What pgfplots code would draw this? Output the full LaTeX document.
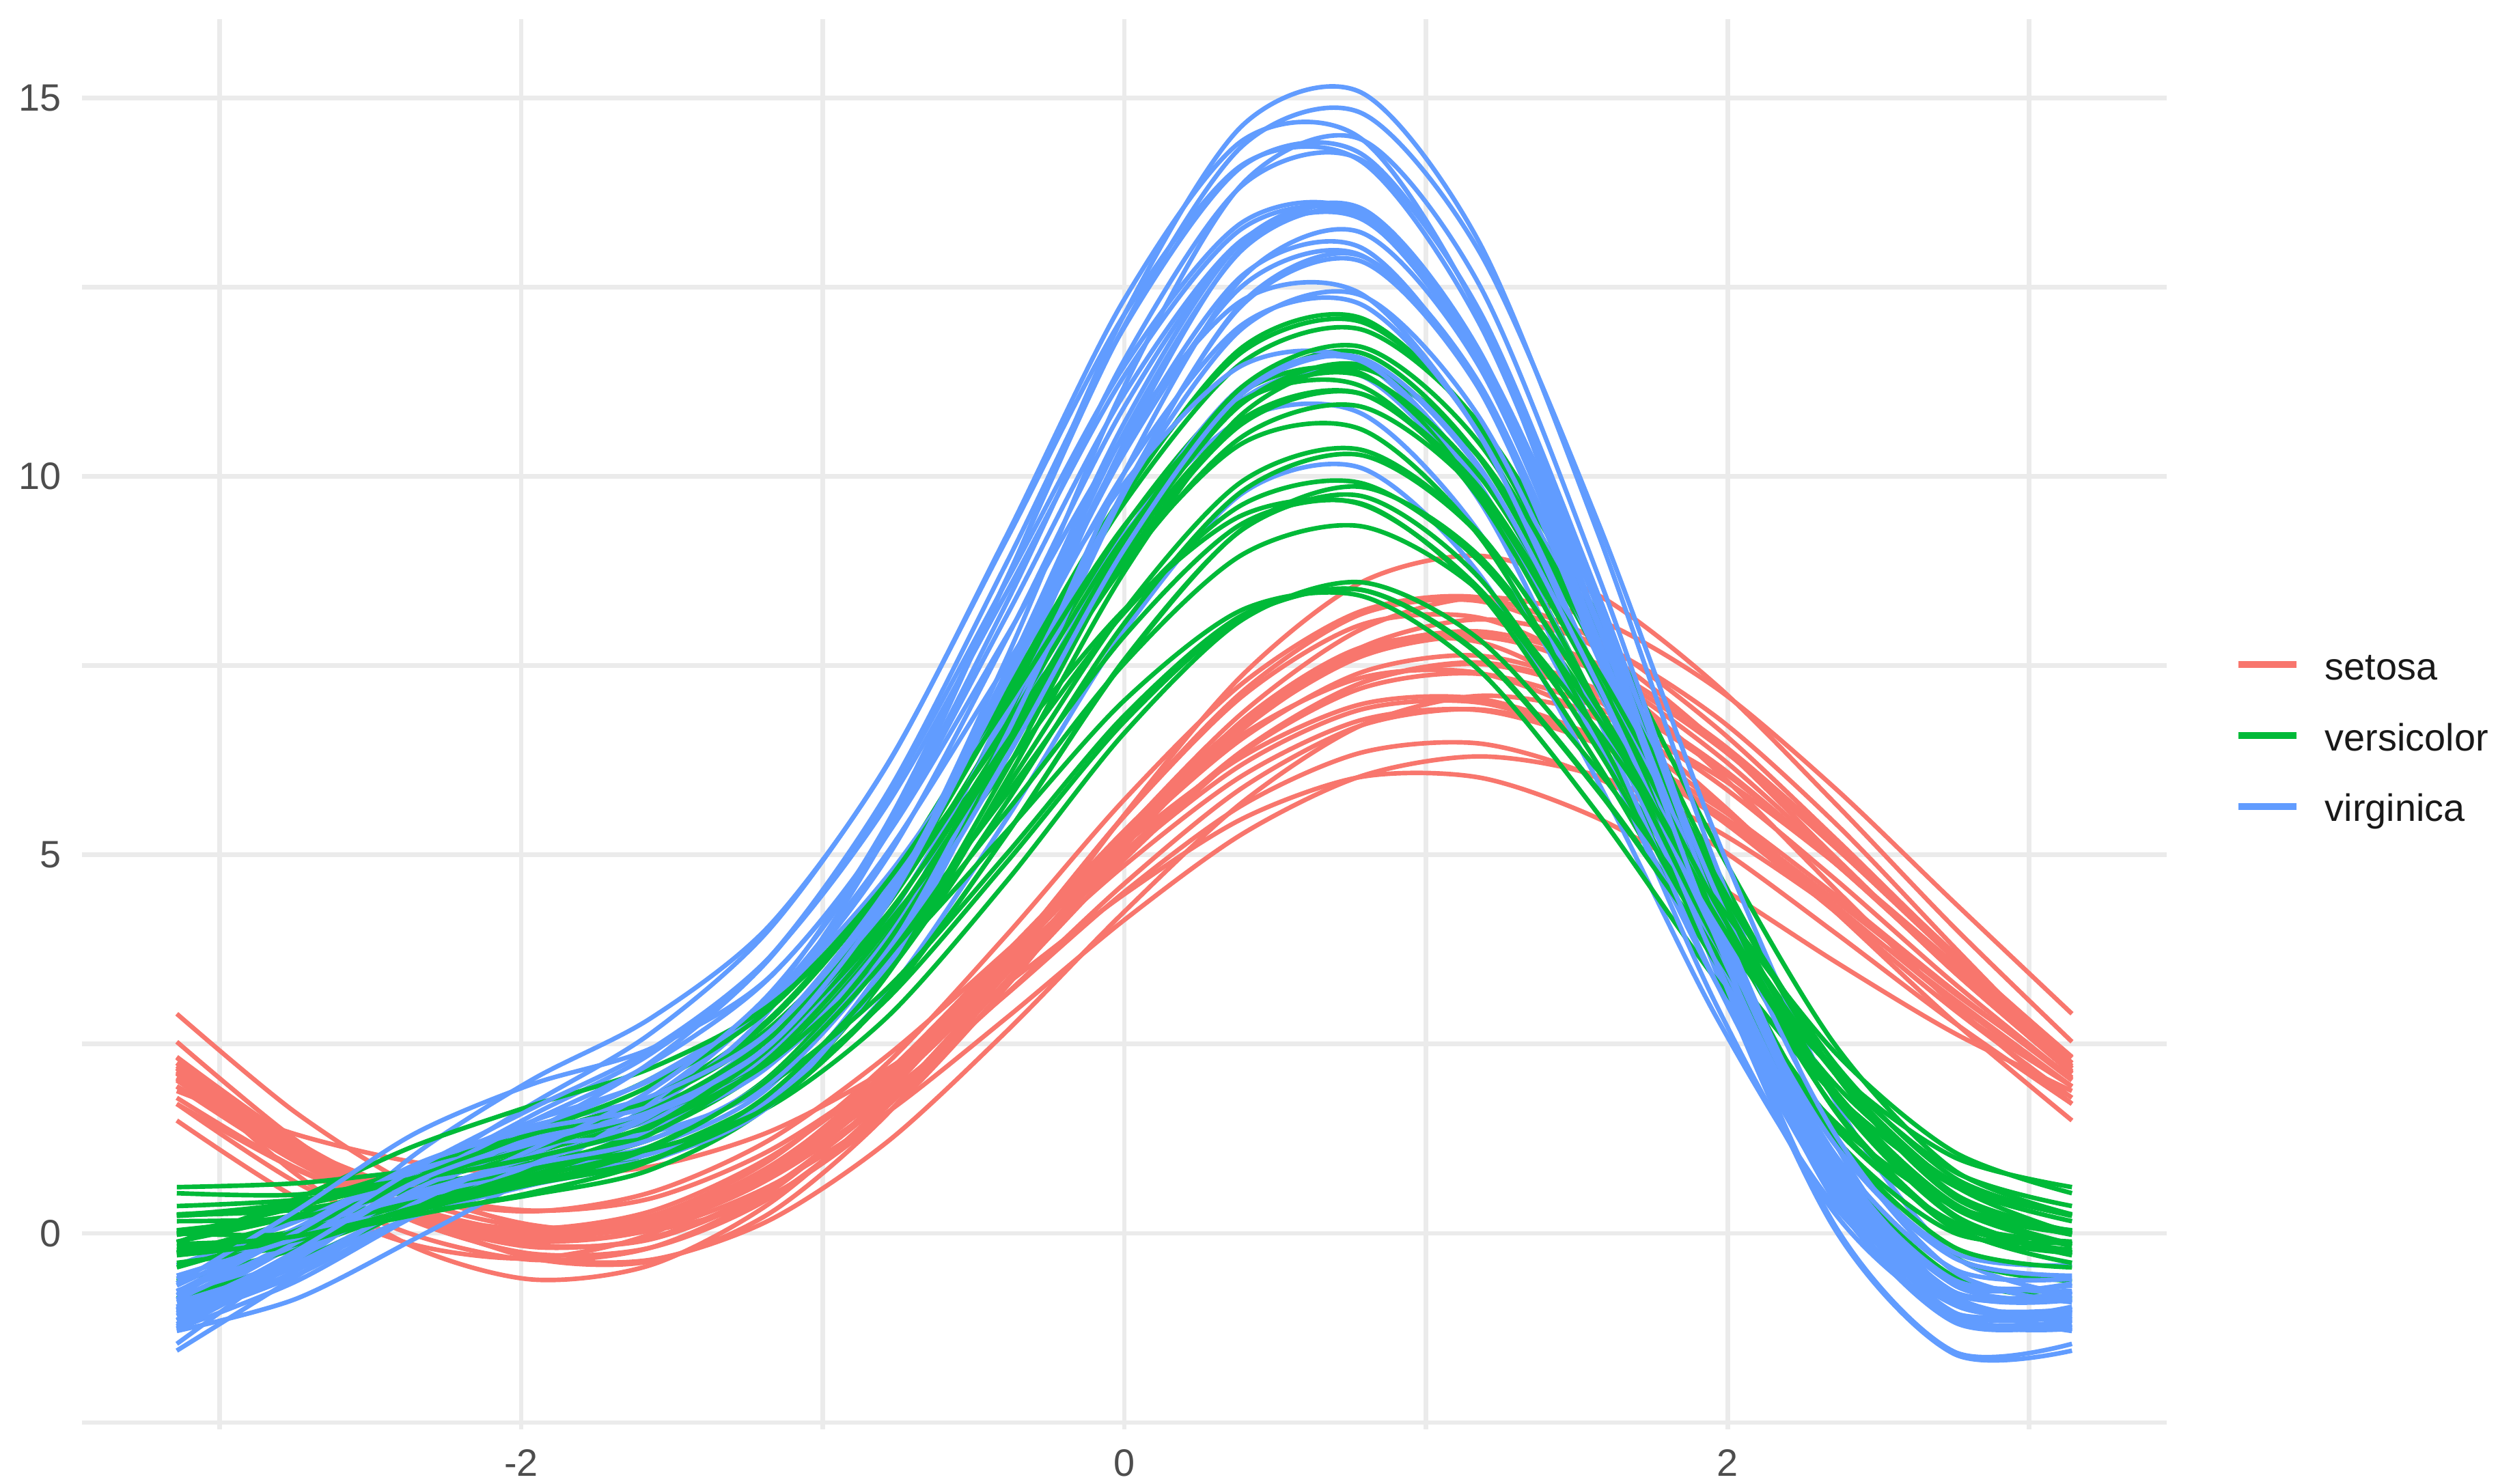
\documentclass[border=0pt]{standalone}
\usepackage{pgfplots}
\pgfplotsset{compat=1.18}
\usepackage{pgfplotstable}
\usepackage{fontspec}
\setmainfont{Liberation Sans}
\definecolor{setc}{HTML}{F8766D}
\definecolor{verc}{HTML}{00BA38}
\definecolor{virc}{HTML}{619CFF}
\definecolor{gridc}{HTML}{EBEBEB}
\definecolor{tickc}{HTML}{4D4D4D}

% Andrews curves of iris rows, setosa (part A)
\pgfplotstableread{
t c1 c2 c3 c4 c5 c6 c7 c8 c9 c10 c11 c12 c13
-3.1416 2.90 2.53 1.49 1.88 1.94 2.21 2.06 2.12 1.71 2.25 2.18 1.94 1.71
-2.7489 1.60 1.24 0.48 1.31 0.95 1.11 1.16 1.04 0.85 1.09 0.79 1.05 0.68
-2.3562 0.62 0.26 -0.15 0.94 0.24 0.34 0.55 0.26 0.27 0.20 -0.18 0.48 -0.02
-1.9635 0.09 -0.33 -0.33 0.77 -0.08 -0.02 0.30 -0.15 0.04 -0.31 -0.61 0.29 -0.35
-1.5708 0.10 -0.37 -0.01 0.88 0.04 0.11 0.46 -0.08 0.21 -0.35 -0.42 0.54 -0.19
-1.1781 0.72 0.26 0.84 1.34 0.62 0.77 1.09 0.58 0.83 0.17 0.39 1.23 0.54
-0.7854 1.92 1.58 2.13 2.17 1.60 1.92 2.13 1.86 1.85 1.21 1.74 2.35 1.86
-0.3927 3.54 3.45 3.71 3.29 2.84 3.42 3.47 3.61 3.15 2.66 3.42 3.72 3.62
0 5.30 5.53 5.29 4.48 4.14 5.01 4.86 5.52 4.51 4.25 5.18 5.14 5.51
0.3927 6.88 7.38 6.59 5.48 5.28 6.38 6.05 7.16 5.66 5.70 6.70 6.30 7.10
0.7854 7.98 8.60 7.34 6.03 6.04 7.27 6.78 8.18 6.35 6.71 7.74 6.99 8.04
1.1781 8.40 8.95 7.40 6.02 6.30 7.52 6.91 8.35 6.47 7.10 8.11 7.06 8.13
1.5708 8.10 8.43 6.79 5.48 6.04 7.11 6.46 7.72 6.01 6.85 7.78 6.54 7.41
1.9635 7.20 7.24 5.67 4.60 5.32 6.16 5.56 6.49 5.11 6.05 6.82 5.55 6.11
2.3562 5.88 5.68 4.25 3.59 4.28 4.89 4.40 4.97 3.97 4.89 5.42 4.33 4.55
2.7489 4.38 4.05 2.80 2.65 3.10 3.51 3.18 3.46 2.79 3.57 3.79 3.06 3.02
3.1416 2.90 2.53 1.49 1.88 1.94 2.21 2.06 2.12 1.71 2.25 2.18 1.94 1.71
}\setosa
% setosa (part B)
\pgfplotstableread{
t c1 c2 c3 c4 c5 c6 c7 c8 c9 c10
-3.1416 2.14 2.04 2.32 2.11 2.18 1.79 1.94 2.25 2.33 2.02
-2.7489 1.01 0.99 1.16 0.98 1.09 0.87 1.14 1.09 1.22 1.04
-2.3562 0.20 0.27 0.34 0.16 0.34 0.27 0.53 0.27 0.44 0.34
-1.9635 -0.18 -0.04 -0.03 -0.27 0.01 0.06 0.11 -0.10 0.08 0.01
-1.5708 -0.06 0.14 0.12 -0.19 0.18 0.29 0.04 0.05 0.23 0.12
-1.1781 0.60 0.83 0.83 0.46 0.88 1.00 0.49 0.76 0.96 0.72
-0.7854 1.78 1.99 2.06 1.68 2.06 2.13 1.59 1.99 2.25 1.78
-0.3927 3.31 3.48 3.65 3.33 3.58 3.54 3.25 3.58 3.93 3.16
0 4.94 5.04 5.32 5.11 5.18 4.99 5.14 5.25 5.73 4.62
0.3927 6.35 6.36 6.76 6.66 6.54 6.20 6.78 6.69 7.27 5.89
0.7854 7.27 7.20 7.70 7.65 7.41 6.92 7.74 7.62 8.22 6.71
1.1781 7.54 7.39 7.95 7.90 7.63 7.01 7.81 7.88 8.40 6.92
1.5708 7.14 6.94 7.52 7.41 7.18 6.49 7.04 7.45 7.83 6.52
1.9635 6.18 5.96 6.52 6.33 6.20 5.50 5.73 6.45 6.68 5.64
2.3562 4.89 4.68 5.17 4.93 4.89 4.25 4.28 5.10 5.22 4.47
2.7489 3.48 3.31 3.71 3.46 3.49 2.96 2.97 3.64 3.70 3.21
3.1416 2.14 2.04 2.32 2.11 2.18 1.79 1.94 2.25 2.33 2.02
}\setosaB

% versicolor (part A)
\pgfplotstableread{
t c1 c2 c3 c4 c5 c6 c7 c8 c9 c10 c11 c12 c13 c14
-3.1416 0.25 -0.02 -0.11 0.16 0.04 0.24 0.36 -0.63 -0.26 -0.86 -0.26 0.61 0.24 -0.12
-2.7489 0.37 0.23 0.23 0.20 0.24 0.41 0.44 -0.21 0.17 -0.37 -0.08 0.66 0.31 0.45
-2.3562 0.76 0.72 0.73 0.43 0.65 0.86 0.66 0.32 0.78 0.33 0.26 0.82 0.58 1.15
-1.9635 1.18 1.20 1.15 0.69 1.06 1.39 0.82 0.65 1.25 0.93 0.51 0.93 0.85 1.69
-1.5708 1.75 1.78 1.59 1.06 1.54 2.04 1.06 0.97 1.74 1.54 0.84 1.11 1.24 2.18
-1.1781 2.80 2.83 2.38 1.80 2.32 3.03 1.74 1.78 2.68 2.57 1.69 1.67 1.97 3.01
-0.7854 4.61 4.65 3.79 3.10 3.60 4.52 3.15 3.50 4.45 4.34 3.42 2.86 3.24 4.51
-0.3927 7.08 7.16 5.79 4.89 5.30 6.39 5.26 6.11 7.01 6.79 5.97 4.64 5.00 6.64
0 9.65 9.78 7.89 6.76 7.04 8.24 7.56 8.97 9.74 9.34 8.74 6.61 6.84 8.88
0.3927 11.51 11.65 9.38 8.14 8.24 9.49 9.31 11.10 11.71 11.12 10.83 8.11 8.17 10.44
0.7854 11.94 12.04 9.64 8.50 8.42 9.63 9.86 11.63 12.09 11.36 11.43 8.60 8.50 10.62
1.1781 10.69 10.68 8.46 7.65 7.43 8.51 8.94 10.24 10.62 9.82 10.24 7.84 7.63 9.20
1.5708 8.15 7.98 6.19 5.86 5.54 6.44 6.86 7.37 7.74 6.94 7.64 6.11 5.84 6.58
1.9635 5.12 4.81 3.56 3.71 3.34 4.04 4.34 4.02 4.39 3.65 4.53 3.99 3.69 3.63
2.3562 2.49 2.11 1.39 1.83 1.47 1.97 2.16 1.24 1.62 0.95 1.86 2.15 1.83 1.26
2.7489 0.84 0.48 0.15 0.63 0.36 0.68 0.82 -0.31 0.06 -0.57 0.25 1.01 0.66 0.01
3.1416 0.25 -0.02 -0.11 0.16 0.04 0.24 0.36 -0.63 -0.26 -0.86 -0.26 0.61 0.24 -0.12
}\versi
% versicolor (part B)
\pgfplotstableread{
t c1 c2 c3 c4 c5 c6 c7 c8 c9 c10 c11 c12
-3.1416 0.03 0.00 -0.25 -0.22 -0.39 0.00 -0.45 0.23 0.53 -0.14 -0.29 -0.17
-2.7489 0.20 0.34 -0.02 0.03 -0.15 -0.01 0.03 0.36 0.51 -0.06 -0.09 -0.04
-2.3562 0.58 0.86 0.40 0.41 0.34 0.29 0.72 0.73 0.72 0.24 0.34 0.31
-1.9635 0.91 1.31 0.74 0.68 0.83 0.74 1.33 1.12 1.00 0.54 0.77 0.66
-1.5708 1.33 1.80 1.15 0.98 1.41 1.40 1.95 1.63 1.43 0.96 1.31 1.13
-1.1781 2.23 2.71 2.07 1.69 2.44 2.47 2.96 2.57 2.26 1.84 2.31 2.04
-0.7854 3.94 4.37 3.84 3.13 4.19 4.09 4.65 4.22 3.67 3.44 4.04 3.65
-0.3927 6.40 6.71 6.40 5.26 6.56 6.15 6.96 6.47 5.56 5.68 6.43 5.88
0 9.03 9.20 9.15 7.58 9.01 8.20 9.35 8.83 7.53 8.06 8.91 8.23
0.3927 10.97 10.98 11.19 9.30 10.76 9.63 11.00 10.53 8.97 9.81 10.70 9.94
0.7854 11.47 11.33 11.71 9.74 11.09 9.91 11.19 10.92 9.34 10.28 11.09 10.35
1.1781 10.26 10.00 10.43 8.65 9.78 8.87 9.70 9.77 8.48 9.22 9.84 9.24
1.5708 7.73 7.40 7.75 6.38 7.21 6.80 6.95 7.43 6.63 6.96 7.31 6.93
1.9635 4.70 4.36 4.57 3.69 4.20 4.32 3.83 4.64 4.39 4.24 4.33 4.18
2.3562 2.11 1.82 1.86 1.43 1.64 2.11 1.26 2.24 2.39 1.88 1.78 1.81
2.7489 0.53 0.36 0.24 0.12 0.09 0.64 -0.18 0.74 1.08 0.40 0.22 0.34
3.1416 0.03 0.00 -0.25 -0.22 -0.39 0.00 -0.45 0.23 0.53 -0.14 -0.29 -0.17
}\versiB

% virginica (part A)
\pgfplotstableread{
t c1 c2 c3 c4 c5 c6 c7 c8 c9 c10 c11 c12 c13 c14 c15 c16 c17
-3.1416 -1.55 -1.23 -1.04 -1.01 -1.26 -1.46 -1.26 -0.81 -0.76 -0.97 -1.29 -1.15 -1.02 -0.88 -1.14 -0.60 -0.42
-2.7489 -0.58 -0.39 -0.45 -0.15 -0.64 -0.30 -0.40 -0.37 -0.16 -0.13 -0.87 -0.32 -0.28 -0.09 -0.50 0.06 0.15
-2.3562 0.38 0.69 0.22 0.73 0.22 1.03 0.73 0.37 0.65 0.73 -0.08 0.49 0.46 0.83 0.46 0.80 0.81
-1.9635 0.88 1.56 0.64 1.20 0.93 2.03 1.71 1.04 1.36 1.22 0.76 0.87 0.80 1.48 1.34 1.25 1.23
-1.5708 1.15 2.37 0.96 1.49 1.64 2.84 2.64 1.79 2.04 1.53 1.71 1.05 0.98 2.02 2.26 1.60 1.58
-1.1781 1.93 3.64 1.68 2.33 2.94 4.06 4.01 3.11 3.06 2.22 3.06 1.76 1.68 3.02 3.62 2.40 2.36
-0.7854 3.86 5.82 3.18 4.36 5.30 6.19 6.20 5.42 4.72 3.80 5.03 3.61 3.50 4.97 5.77 4.15 4.00
-0.3927 6.97 8.84 5.46 7.58 8.62 9.20 9.15 8.63 6.96 6.28 7.50 6.63 6.45 7.84 8.60 6.84 6.47
0 10.45 11.97 7.96 11.19 12.14 12.34 12.14 11.99 9.24 9.03 9.91 10.05 9.78 10.92 11.46 9.80 9.18
0.3927 13.03 14.10 9.78 13.87 14.64 14.44 14.12 14.37 10.76 11.02 11.47 12.63 12.30 13.10 13.36 11.96 11.16
0.7854 13.53 14.26 10.11 14.45 15.07 14.46 14.16 14.80 10.83 11.33 11.51 13.22 12.91 13.41 13.47 12.39 11.56
1.1781 11.57 12.16 8.70 12.52 13.08 12.11 12.01 12.96 9.25 9.67 9.85 11.44 11.22 11.53 11.52 10.77 10.08
1.5708 7.75 8.37 5.96 8.69 9.24 8.04 8.24 9.39 6.44 6.53 6.91 7.85 7.78 8.02 8.06 7.60 7.18
1.9635 3.44 4.14 2.85 4.32 4.84 3.58 4.05 5.23 3.30 3.01 3.58 3.76 3.83 4.05 4.16 3.96 3.86
2.3562 0.05 0.73 0.35 0.82 1.19 0.10 0.69 1.75 0.76 0.26 0.79 0.50 0.67 0.87 0.96 1.04 1.17
2.7489 -1.59 -1.06 -0.94 -0.93 -0.85 -1.56 -1.09 -0.29 -0.60 -1.05 -0.86 -1.11 -0.93 -0.77 -0.82 -0.47 -0.25
3.1416 -1.55 -1.23 -1.04 -1.01 -1.26 -1.46 -1.26 -0.81 -0.76 -0.97 -1.29 -1.15 -1.02 -0.88 -1.14 -0.60 -0.42
}\virgi
% virginica (part B)
\pgfplotstableread{
t c1 c2 c3 c4 c5 c6 c7 c8 c9 c10 c11 c12
-3.1416 -1.00 -1.15 -1.20 -1.06 -0.69 -0.77 -0.82 -0.91 -0.87 -0.66 -0.56 -1.09
-2.7489 -0.30 -0.56 -0.35 -0.30 0.06 0.03 0.01 -0.40 -0.13 0.29 -0.07 -0.24
-2.3562 0.49 0.24 0.57 0.67 0.90 0.82 0.89 0.39 0.84 1.31 0.53 0.67
-1.9635 1.00 0.91 1.16 1.48 1.42 1.17 1.37 1.11 1.65 1.97 0.91 1.22
-1.5708 1.40 1.55 1.60 2.24 1.81 1.33 1.68 1.89 2.43 2.44 1.24 1.61
-1.1781 2.21 2.65 2.49 3.37 2.66 1.97 2.48 3.16 3.64 3.38 2.04 2.48
-0.7854 3.90 4.56 4.38 5.27 4.48 3.71 4.35 5.27 5.67 5.34 3.72 4.42
-0.3927 6.44 7.25 7.25 7.87 7.26 6.57 7.29 8.14 8.45 8.31 6.26 7.41
0 9.20 10.05 10.40 10.54 10.31 9.83 10.58 11.09 11.33 11.54 9.04 10.71
0.3927 11.19 12.01 12.66 12.33 12.52 12.27 13.00 13.13 13.28 13.85 11.10 13.11
0.7854 11.52 12.27 13.02 12.41 12.92 12.84 13.47 13.40 13.43 14.18 11.56 13.54
1.1781 9.89 10.55 11.14 10.54 11.17 11.14 11.64 11.62 11.50 12.18 10.12 11.65
1.5708 6.80 7.35 7.60 7.24 7.81 7.73 8.08 8.29 8.03 8.44 7.24 8.01
1.9635 3.30 3.72 3.59 3.56 3.99 3.83 4.03 4.48 4.14 4.26 3.90 3.88
2.3562 0.50 0.75 0.42 0.60 0.94 0.74 0.81 1.31 1.00 0.95 1.17 0.60
2.7489 -0.92 -0.88 -1.17 -0.94 -0.61 -0.77 -0.79 -0.50 -0.68 -0.67 -0.32 -1.04
3.1416 -1.00 -1.15 -1.20 -1.06 -0.69 -0.77 -0.82 -0.91 -0.87 -0.66 -0.56 -1.09
}\virgiB

\begin{document}
\begin{tikzpicture}
\useasboundingbox (0,0) rectangle (877.68pt,521.52pt);
\begin{axis}[
  at={(28.8pt,19.2pt)}, anchor=south west,
  width=732.5pt, height=495.6pt, scale only axis,
  xmin=-3.456, xmax=3.456, ymin=-2.59, ymax=16.04,
  axis line style={draw=none},
  major tick length=0pt, minor tick length=0pt,
  xtick={-2,0,2}, xticklabels={-2,0,2},
  minor xtick={-3,-1,1,3},
  ytick={0,5,10,15}, yticklabels={0,5,10,15},
  minor ytick={-2.5,2.5,7.5,12.5},
  grid=both,
  major grid style={gridc, line width=1.6pt},
  minor grid style={gridc, line width=1.6pt},
  tick label style={font=\fontsize{13.4pt}{16pt}\selectfont, text=tickc, inner sep=0pt},
  xticklabel style={yshift=-7pt},
  yticklabel style={xshift=-7.2pt},
  every axis plot/.append style={no markers, smooth, line width=1.6pt, line join=round},
]
\pgfplotsinvokeforeach{1,...,13}{
  \addplot[setc] table[x=t, y=c#1] {\setosa};
}
\pgfplotsinvokeforeach{1,...,10}{
  \addplot[setc] table[x=t, y=c#1] {\setosaB};
}
\pgfplotsinvokeforeach{1,...,14}{
  \addplot[virc] table[x=t, y=c#1] {\virgi};
  \addplot[verc] table[x=t, y=c#1] {\versi};
}
\pgfplotsinvokeforeach{15,16,17}{
  \addplot[virc] table[x=t, y=c#1] {\virgi};
}
\pgfplotsinvokeforeach{1,...,12}{
  \addplot[verc] table[x=t, y=c#1] {\versiB};
  \addplot[virc] table[x=t, y=c#1] {\virgiB};
}
\end{axis}
% legend
\draw[setc, line width=2.4pt] (786.5pt,288pt) -- (806.9pt,288pt);
\draw[verc, line width=2.4pt] (786.5pt,263pt) -- (806.9pt,263pt);
\draw[virc, line width=2.4pt] (786.5pt,238.1pt) -- (806.9pt,238.1pt);
\node[anchor=base west, inner sep=0pt, font=\fontsize{13.4pt}{16pt}\selectfont, text=black!90] at (816.7pt,282.7pt) {setosa};
\node[anchor=base west, inner sep=0pt, font=\fontsize{13.4pt}{16pt}\selectfont, text=black!90] at (816.7pt,257.7pt) {versicolor};
\node[anchor=base west, inner sep=0pt, font=\fontsize{13.4pt}{16pt}\selectfont, text=black!90] at (816.7pt,232.8pt) {virginica};
\end{tikzpicture}
\end{document}
